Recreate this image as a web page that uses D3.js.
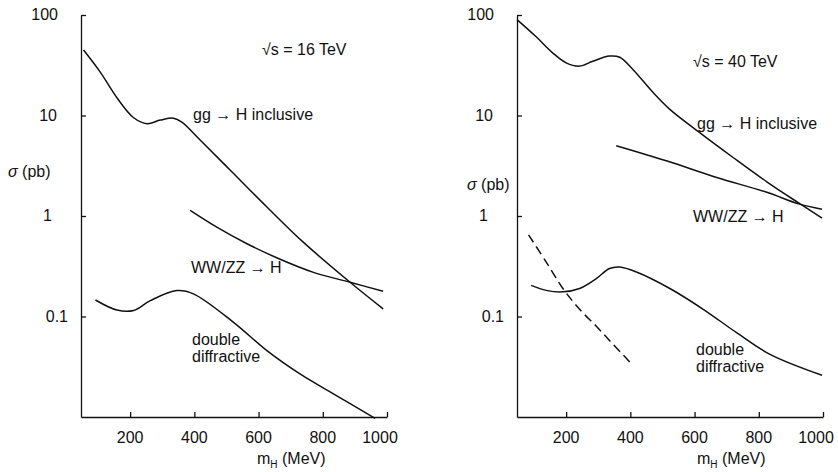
<!DOCTYPE html>
<html>
<head>
<meta charset="utf-8">
<script src="https://cdn.jsdelivr.net/npm/d3@7"></script>
<style>
  body { margin: 0; background: #fff; }
  svg text { font-family: "Liberation Sans", Arial, sans-serif; font-size: 16px; fill: #111; }
  .axis path, .axis line { stroke: #111; stroke-width: 1.3; }
  .curve { fill: none; stroke: #111; stroke-width: 1.5; }
</style>
</head>
<body>
<div id="chart"></div>
<script>
// Define SVG area dimensions
var svgWidth = 838;
var svgHeight = 472;

// tick values shared by both panels
const massTicks = [200, 400, 600, 800, 1000];
const sigmaTicks = [0.1, 1, 10, 100];

// sqrt(s) = 16 TeV
const gg16Mass = [55, 107, 159, 211, 253, 294, 335, 361, 418, 512, 626, 740, 885, 988];
const gg16Sigma = [44.8, 27, 15, 9.5, 8.3, 9.0, 9.4, 8.6, 5.7, 2.85, 1.23, 0.546, 0.219, 0.119];
const ww16Mass = [387, 470, 564, 660, 771, 885, 988];
const ww16Sigma = [1.14, 0.776, 0.53, 0.38, 0.275, 0.219, 0.178];
const dd16Mass = [92, 159, 211, 263, 346, 397, 522, 626, 729, 833, 963];
const dd16Sigma = [0.146, 0.116, 0.115, 0.144, 0.181, 0.168, 0.0875, 0.0457, 0.0268, 0.017, 0.0097];

// sqrt(s) = 40 TeV
const gg40Mass = [47, 106, 158, 200, 242, 283, 335, 367, 408, 471, 523, 620, 721, 825, 924, 997];
const gg40Sigma = [90, 61, 42, 33.4, 31, 34.7, 39, 38, 28.7, 16.9, 11.5, 6.6, 3.8, 2.19, 1.35, 0.955];
const ww40Mass = [356, 512, 669, 825, 924, 997];
const ww40Sigma = [5.0, 3.54, 2.42, 1.72, 1.32, 1.17];
const dd40Mass = [91, 138, 190, 242, 294, 335, 367, 419, 523, 627, 731, 835, 997];
const dd40Sigma = [0.204, 0.182, 0.176, 0.19, 0.238, 0.3, 0.311, 0.277, 0.19, 0.118, 0.069, 0.042, 0.026];
const dash40Mass = [83, 138, 190, 242, 294, 346, 403];
const dash40Sigma = [0.65, 0.348, 0.19, 0.118, 0.08, 0.053, 0.034];

function zipCurve(mass, sigma) {
  return mass.map((m, i) => ({ m: m, s: sigma[i] }));
}

var panels = [
  {
    x0: 81, x1: 387,
    energy: "16", energyPos: [262, 55],
    sigmaPos: [8, 177],
    xTitlePos: [257, 464],
    ggPos: [193, 120], wwPos: [191, 273], ddPos: [192, 345],
    curves: [
      { data: zipCurve(gg16Mass, gg16Sigma) },
      { data: zipCurve(ww16Mass, ww16Sigma) },
      { data: zipCurve(dd16Mass, dd16Sigma) }
    ]
  },
  {
    x0: 517, x1: 823,
    energy: "40", energyPos: [693, 67],
    sigmaPos: [467, 190],
    xTitlePos: [697, 464],
    ggPos: [697, 129], wwPos: [693, 222], ddPos: [696, 355],
    curves: [
      { data: zipCurve(gg40Mass, gg40Sigma) },
      { data: zipCurve(ww40Mass, ww40Sigma) },
      { data: zipCurve(dd40Mass, dd40Sigma) },
      { data: zipCurve(dash40Mass, dash40Sigma), dashed: true }
    ]
  }
];

var yTop = 15;
var yBottom = 417;
// label offsets left of the axis, by tick value
var yLabelDx = { 100: -23, 10: -24, 1: -29, 0.1: -13 };

var svg = d3.select("#chart")
  .append("svg")
  .attr("width", svgWidth)
  .attr("height", svgHeight);

panels.forEach(function(p) {
  const xScale = d3.scaleLinear().domain([47, 1000]).range([p.x0, p.x1]);
  const yScale = d3.scaleLog().domain([0.01, 100]).range([yBottom, yTop]);

  // y axis, ticks pointing inward
  svg.append("g")
    .attr("class", "axis")
    .attr("transform", `translate(${p.x0}, 0)`)
    .call(d3.axisRight(yScale).tickValues(sigmaTicks).tickSize(5).tickSizeOuter(0).tickFormat(""));

  svg.append("g")
    .selectAll("text")
    .data(sigmaTicks)
    .enter()
    .append("text")
    .attr("x", d => p.x0 + yLabelDx[d])
    .attr("y", d => yScale(d) + 5)
    .attr("text-anchor", "end")
    .text(d => d);

  // x axis, ticks pointing up
  svg.append("g")
    .attr("class", "axis")
    .attr("transform", `translate(0, ${yBottom})`)
    .call(d3.axisTop(xScale).tickValues(massTicks).tickSize(5).tickSizeOuter(0).tickFormat(""));

  svg.append("g")
    .selectAll("text")
    .data(massTicks)
    .enter()
    .append("text")
    .attr("x", d => xScale(d) - (d === 1000 ? 7 : 0))
    .attr("y", 443)
    .attr("text-anchor", "middle")
    .text(d => d);

  // axis titles
  const xTitle = svg.append("text")
    .attr("x", p.xTitlePos[0])
    .attr("y", p.xTitlePos[1]);
  xTitle.append("tspan").text("m");
  xTitle.append("tspan").attr("font-size", "10px").attr("dy", 4).text("H");
  xTitle.append("tspan").attr("dy", -4).text(" (MeV)");

  const yTitle = svg.append("text")
    .attr("x", p.sigmaPos[0])
    .attr("y", p.sigmaPos[1]);
  yTitle.append("tspan").attr("font-style", "italic").text("σ");
  yTitle.append("tspan").text(" (pb)");

  // curves
  const line = d3.line()
    .x(d => xScale(d.m))
    .y(d => yScale(d.s))
    .curve(d3.curveCatmullRom.alpha(0.5));

  p.curves.forEach(function(c) {
    svg.append("path")
      .datum(c.data)
      .attr("class", "curve")
      .attr("stroke-dasharray", c.dashed ? "9,5" : null)
      .attr("d", line);
  });

  // annotations
  svg.append("text")
    .attr("x", p.energyPos[0])
    .attr("y", p.energyPos[1])
    .text(`√s = ${p.energy} TeV`);

  svg.append("text")
    .attr("x", p.ggPos[0])
    .attr("y", p.ggPos[1])
    .text("gg → H inclusive");

  svg.append("text")
    .attr("x", p.wwPos[0])
    .attr("y", p.wwPos[1])
    .text("WW/ZZ → H");

  const dd = svg.append("text")
    .attr("x", p.ddPos[0])
    .attr("y", p.ddPos[1]);
  dd.append("tspan").attr("x", p.ddPos[0]).text("double");
  dd.append("tspan").attr("x", p.ddPos[0]).attr("dy", 17).text("diffractive");
});
</script>
</body>
</html>
